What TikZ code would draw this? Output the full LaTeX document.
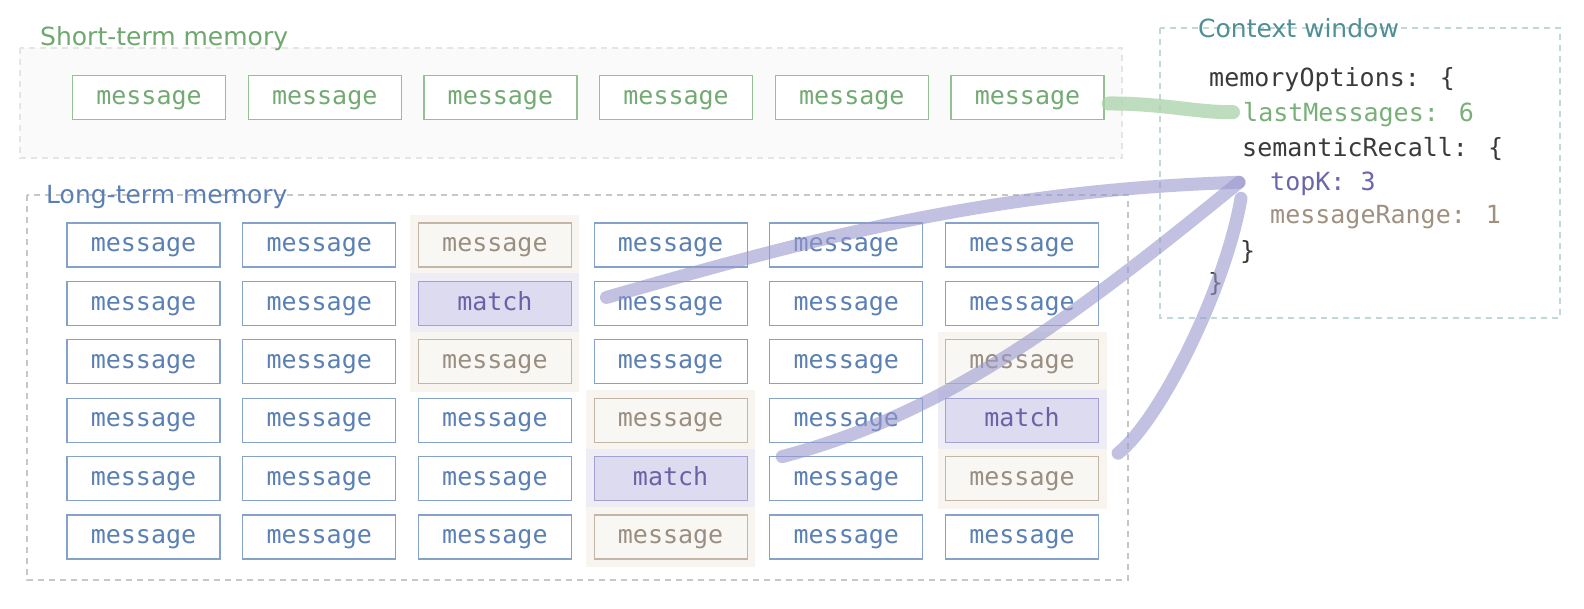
\documentclass[tikz,border=0pt]{standalone}
\usepackage{fontspec}
\setmainfont{DejaVu Sans}
\newfontfamily\monofont{DejaVu Sans Mono}
\usetikzlibrary{calc}
\definecolor{stlabel}{HTML}{6EA86E}
\definecolor{sttext}{HTML}{72AA72}
\definecolor{stborder}{HTML}{93C193}
\definecolor{ltlabel}{HTML}{5B7FB5}
\definecolor{lttext}{HTML}{5A80B5}
\definecolor{ltborder}{HTML}{84A2CA}
\definecolor{brtext}{HTML}{9A8E80}
\definecolor{brborder}{HTML}{C4B6A6}
\definecolor{brfill}{HTML}{F9F7F4}
\definecolor{brhalo}{HTML}{F8F5F1}
\definecolor{mtext}{HTML}{6A62A6}
\definecolor{mborder}{HTML}{A3A0D2}
\definecolor{mfill}{HTML}{DDDBEF}
\definecolor{mhalo}{HTML}{EEEDF6}
\definecolor{codeblack}{HTML}{3A3A3A}
\definecolor{codegreen}{HTML}{78B078}
\definecolor{codepurple}{HTML}{6A66AA}
\definecolor{codebrown}{HTML}{A09080}
\definecolor{ctxlabel}{HTML}{4F8F95}
\definecolor{recall}{HTML}{9A98CE}
\definecolor{keepgreen}{HTML}{A9D2A9}
\tikzset{
  cellbase/.style={draw, line width=1.2pt, minimum width=153pt, minimum height=44pt, inner sep=0pt,
    text height=17pt, text depth=3.5pt, font=\monofont\fontsize{25}{30}\selectfont},
  shortcell/.style={cellbase, draw=stborder, text=sttext, fill=white, node contents=message},
  cellb/.style={cellbase, draw=ltborder, text=lttext, fill=white, node contents=message},
  cello/.style={cellbase, draw=brborder, text=brtext, fill=brfill,
    preaction={draw=brhalo, line width=16pt}, node contents=message},
  cellm/.style={cellbase, draw=mborder, text=mtext, fill=mfill,
    preaction={draw=mhalo, line width=16pt}, node contents=match},
  container/.style={dash pattern=on 6pt off 5pt, line width=1.2pt},
  grouplabel/.style={anchor=base west, inner sep=0pt, font=\fontsize{25}{30}\selectfont},
  codeline/.style={anchor=base west, inner sep=0pt, font=\monofont\fontsize{25}{30}\selectfont},
  recallline/.style={draw=recall, opacity=0.6, line width=13pt, line cap=round},
  keepline/.style={draw=keepgreen, opacity=0.75, line width=14pt, line cap=round}
}
\begin{document}
\begin{tikzpicture}[x=1pt,y=-1pt]
\useasboundingbox[fill=white] (0,0) rectangle (1584,608);

% containers
\draw[container, draw=black!10, fill=black!2] (20,48) rectangle (1122,158);
\draw[container, draw=black!22, fill=white] (27,195) rectangle (1128,580);
\draw[container, draw=ctxlabel!35, fill=white] (1160,28) rectangle (1560,318);

% group labels
\node[grouplabel, text=stlabel] (stlab) at (40,45) {Short-term memory};
\node[grouplabel, text=ltlabel] (ltlab) at (46,203) {Long-term memory};
\node[grouplabel, text=ctxlabel] (ctxlab) at (1198,37) {Context window};

% short-term messages
\foreach \c in {1,...,6} {
  \node (s\c) at ({149+175.7*(\c-1)},97.5) [shortcell];
}

% long-term messages
\foreach \r/\yy/\types in {1/245/{b,b,o,b,b,b},2/303.4/{b,b,m,b,b,b},3/361.8/{b,b,o,b,b,o},
                           4/420.2/{b,b,b,o,b,m},5/478.6/{b,b,b,m,b,o},6/537/{b,b,b,o,b,b}} {
  \foreach \t [count=\c] in \types {
    \node (l-\r-\c) at ({143.5+175.7*(\c-1)},\yy) [cell\t];
  }
}

% context window code
\node[codeline, text=codeblack] (mo) at (1209,86) {memoryOptions: \{};
\node[codeline, text=codegreen] (lm) at (1243,121) {lastMessages: 6};
\node[codeline, text=codeblack] (sr) at (1242,156) {semanticRecall: \{};
\node[codeline, text=codepurple] (tk) at (1270,190) {topK: 3};
\node[codeline, text=codebrown] (mr) at (1270,223) {messageRange: 1};
\node[codeline, text=codeblack] (cb1) at (1240,259) {\}};
\node[codeline, text=codeblack] (cb2) at (1208,291) {\}};

% connector anchors
\coordinate (k6) at ($(s6.east)+(4,6)$);
\coordinate (lmin) at ($(lm.west)+(-10,-2)$);
\coordinate (r1) at ($(l-2-4.west)+(13,-6)$);
\coordinate (r2) at ($(l-5-5.west)+(13,-22)$);
\coordinate (r3) at ($(l-4-6.east)+(19,33)$);
\coordinate (tkin) at ($(tk.west)+(-31,-1)$);
\coordinate (tkin2) at ($(tk.west)+(-29,15)$);

% connectors
\draw[keepline] (k6) .. controls (1160,103) and (1200,113) .. (lmin);
\draw[recallline] (r1) .. controls (807,240) and (989,190) .. (tkin);
\draw[recallline] (r2) .. controls (944,414) and (1069,321) .. (tkin);
\draw[recallline] (r3) .. controls (1160,420) and (1225,290) .. (tkin2);
\end{tikzpicture}
\end{document}
